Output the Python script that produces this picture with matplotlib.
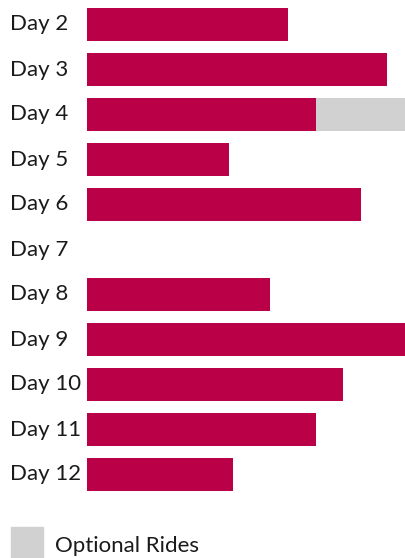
import matplotlib
matplotlib.use("Agg")
import matplotlib.pyplot as plt
from matplotlib.patches import Rectangle
import matplotlib.transforms as mtransforms

days = ["Day 2", "Day 3", "Day 4", "Day 5", "Day 6", "Day 7",
        "Day 8", "Day 9", "Day 10", "Day 11", "Day 12"]
main_rides = [201, 300, 229, 142, 274, 0, 183, 318, 256, 229, 146]
optional_rides = [0, 0, 89, 0, 0, 0, 0, 0, 0, 0, 0]
legend_label = "Optional Rides"

crimson = "#BA0047"
gray = "#D1D1D1"
plt.rcParams['font.family'] = ['Lato', 'DejaVu Sans']

W, H = 405, 558
fig = plt.figure(figsize=(W/100, H/100), dpi=100)
ax = fig.add_axes([87/W, 1 - 497/H, 1 - 87/W, 495/H])

idx = list(range(len(days)))
ax.barh(idx, main_rides, height=0.73, color=crimson)
ax.barh(idx, optional_rides, left=main_rides, height=0.73, color=gray)
ax.set_ylim(len(days) - 0.5, -0.5)
ax.set_xlim(0, 318)
ax.axis("off")

trans = mtransforms.blended_transform_factory(fig.transFigure, ax.transData)
for i, d in enumerate(days):
    ax.text(10/W, i, d, transform=trans, ha="left", va="center",
            fontsize=16, color="#1a1a1a")

fig.patches.append(Rectangle((11/W, 1 - 559/H), 32/W, 32/H,
                             transform=fig.transFigure, color=gray))
fig.text(55/W, 1 - 546/H, legend_label, ha="left", va="center",
         fontsize=16, color="#1a1a1a")

fig.savefig("out.png", dpi=100)
